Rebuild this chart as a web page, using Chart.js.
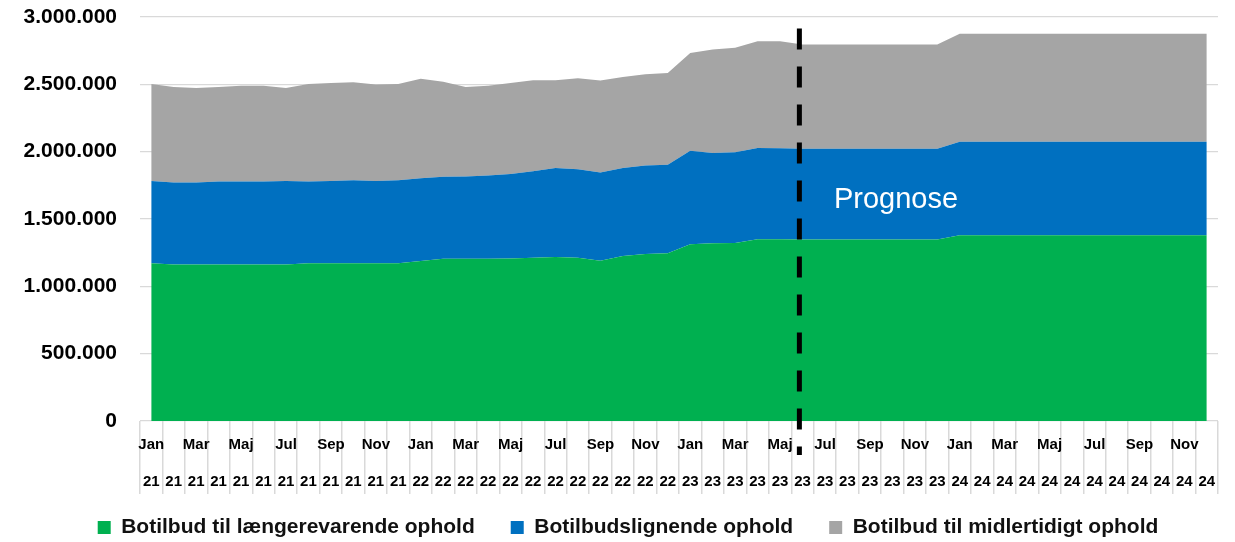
<!DOCTYPE html>
<html>
<head>
<meta charset="utf-8">
<script src="https://cdn.jsdelivr.net/npm/chart.js@4.4.1/dist/chart.umd.min.js"></script>
<style>
  html, body { margin: 0; padding: 0; background: #fff; }
  #wrap { width: 1235px; height: 542px; }
</style>
</head>
<body>
<div id="wrap"><canvas id="chart1" width="1235" height="542"></canvas></div>
<script>
  // x labels: month names on first row (every other month), year on second row
  let monthNames = ['Jan', '', 'Mar', '', 'Maj', '', 'Jul', '', 'Sep', '', 'Nov', ''];
  let yearNames = ['21', '22', '23', '24'];

  let seriesNames = ['Botilbud til længerevarende ophold', 'Botilbudslignende ophold', 'Botilbud til midlertidigt ophold'];
  let seriesColors = ['#00B050', '#0070C0', '#A5A5A5'];

  // monthly values, Jan 21 .. Dec 24 (stacked)
  let laengerevarende = [
    1171000, 1163000, 1163000, 1163000, 1163000, 1163000, 1163000, 1171000, 1171000, 1171000, 1171000, 1171000,
    1188000, 1205000, 1205000, 1205000, 1207000, 1213000, 1218000, 1213000, 1190000, 1225000, 1240000, 1245000,
    1312000, 1320000, 1322000, 1350000, 1350000, 1348000, 1348000, 1348000, 1348000, 1348000, 1348000, 1348000,
    1380000, 1380000, 1380000, 1380000, 1380000, 1380000, 1380000, 1380000, 1380000, 1380000, 1380000, 1380000
  ];
  let lignende = [
    612000, 608000, 608000, 615000, 615000, 615000, 620000, 607000, 612000, 617000, 612000, 617000,
    615000, 608000, 610000, 618000, 628000, 642000, 660000, 657000, 655000, 653000, 657000, 657000,
    695000, 670000, 673000, 677000, 675000, 674000, 674000, 674000, 674000, 674000, 674000, 674000,
    694000, 694000, 694000, 694000, 694000, 694000, 694000, 694000, 694000, 694000, 694000, 694000
  ];
  let midlertidigt = [
    720000, 709000, 702000, 702000, 712000, 712000, 690000, 725000, 727000, 727000, 715000, 715000,
    739000, 707000, 665000, 667000, 675000, 675000, 652000, 675000, 683000, 677000, 677000, 683000,
    726000, 768000, 776000, 793000, 795000, 773000, 773000, 773000, 773000, 773000, 773000, 773000,
    801000, 801000, 801000, 801000, 801000, 801000, 801000, 801000, 801000, 801000, 801000, 801000
  ];

  // where the forecast starts (category index, between Maj 23 and Jun 23)
  let prognoseIndex = 28.86;
  let prognoseText = 'Prognose';

  let labels = [];
  for (let y = 0; y < yearNames.length; y++) {
    for (let m = 0; m < monthNames.length; m++) {
      labels.push([monthNames[m], yearNames[y]]);
    }
  }

  function danish(v) {
    return String(v).replace(/\B(?=(\d{3})+(?!\d))/g, '.');
  }

  let prognosePlugin = {
    id: 'prognose',
    afterLayout: function(chart) {
      // legend a bit lower and to the right, x labels may draw below the scale box
      let lg = chart.legend;
      lg.top += 6; lg.bottom += 6;
      lg.left += 19; lg.right += 19;
      chart.scales.x.bottom = 505;
    },
    afterDraw: function(chart) {
      let ctx = chart.ctx;
      let xs = chart.scales.x;
      let ys = chart.scales.y;
      let x = xs.getPixelForValue(prognoseIndex);
      ctx.save();
      ctx.strokeStyle = '#000';
      ctx.lineWidth = 5;
      ctx.setLineDash([21, 17]);
      ctx.beginPath();
      ctx.moveTo(x, ys.getPixelForValue(2915000));
      ctx.lineTo(x, chart.chartArea.bottom + 34);
      ctx.stroke();
      ctx.setLineDash([]);
      ctx.fillStyle = '#fff';
      ctx.font = '29px "Liberation Sans", Arial, sans-serif';
      ctx.textAlign = 'left';
      ctx.textBaseline = 'middle';
      ctx.fillText(prognoseText, xs.getPixelForValue(30.4), ys.getPixelForValue(1640000));
      ctx.restore();
    }
  };

  let ctx = document.getElementById('chart1').getContext('2d');
  let myChart = new Chart(ctx, {
    type: 'line',
    data: {
      labels: labels,
      datasets: [
        { label: seriesNames[0], data: laengerevarende, fill: 'origin' },
        { label: seriesNames[1], data: lignende, fill: '-1' },
        { label: seriesNames[2], data: midlertidigt, fill: '-1' }
      ].map(function(d, i) {
        d.backgroundColor = seriesColors[i];
        d.borderColor = seriesColors[i];
        d.borderWidth = 0;
        d.pointRadius = 0;
        d.tension = 0;
        return d;
      })
    },
    options: {
      responsive: false,
      animation: false,
      layout: { padding: { left: 0, right: 17, top: 17, bottom: 0 } },
      plugins: {
        tooltip: { enabled: false },
        legend: {
          position: 'bottom',
          labels: {
            boxWidth: 13,
            boxHeight: 13,
            padding: 36,
            color: '#111',
            font: { family: '"Liberation Sans", Arial, sans-serif', size: 21, weight: 'bold' }
          }
        }
      },
      scales: {
        x: {
          offset: true,
          grid: { offset: true, drawOnChartArea: false, tickLength: 73, color: '#d9d9d9', lineWidth: 1.5 },
          border: { display: false },
          ticks: {
            autoSkip: false,
            maxRotation: 0,
            minRotation: 0,
            padding: -67.5,
            color: '#000',
            font: { family: '"Liberation Sans", Arial, sans-serif', size: 15, weight: 'bold', lineHeight: 2.47 }
          },
          afterFit: function(scale) { scale.height = 54; }
        },
        y: {
          stacked: true,
          min: 0,
          max: 3000000,
          grid: { drawTicks: false, color: '#d9d9d9', lineWidth: 1.3 },
          border: { display: false },
          ticks: {
            stepSize: 500000,
            padding: 23,
            color: '#000',
            font: { family: '"Liberation Sans", Arial, sans-serif', size: 21, weight: 'bold' },
            callback: function(v) { return danish(v); }
          },
          afterFit: function(scale) {
            scale.width = 140;
            scale.paddingTop = 0;
            scale.paddingBottom = 0;
          }
        }
      }
    },
    plugins: [prognosePlugin]
  });
</script>
</body>
</html>
